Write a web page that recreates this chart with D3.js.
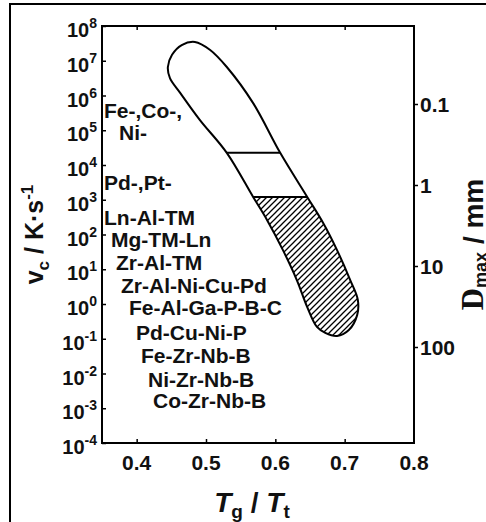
<!DOCTYPE html>
<html>
<head>
<meta charset="utf-8">
<script src="https://cdn.jsdelivr.net/npm/d3@7"></script>
<style>
  body { margin: 0; background: #fff; }
  text { font-family: "Liberation Sans", Arial, sans-serif; font-weight: bold; fill: #111; }
</style>
</head>
<body>
<div id="chart"></div>
<script>
const W = 486, H = 522;
const margin = { top: 26, right: 72, bottom: 79, left: 102 };
const width = W - margin.left - margin.right;
const height = H - margin.top - margin.bottom;

// axis ticks
const tgTicks = [0.4, 0.5, 0.6, 0.7, 0.8];
const rateExponents = [8, 7, 6, 5, 4, 3, 2, 1, 0, -1, -2, -3, -4];
const dmaxTicks = [0.1, 1, 10, 100];
const dmaxLabels = ["0.1", "1", "10", "100"];

// alloy families, listed top to bottom
const alloyLabels = ["Fe-,Co-,", "Ni-", "Pd-,Pt-", "Ln-Al-TM", "Mg-TM-Ln", "Zr-Al-TM",
  "Zr-Al-Ni-Cu-Pd", "Fe-Al-Ga-P-B-C", "Pd-Cu-Ni-P", "Fe-Zr-Nb-B", "Ni-Zr-Nb-B", "Co-Zr-Nb-B"];

// outline of the glass-forming band: Tg/Tl and log10(Rc), going round clockwise
const bandTg = [0.484, 0.506, 0.530, 0.568, 0.607, 0.646, 0.669, 0.689, 0.708, 0.719, 0.718, 0.706,
  0.689, 0.672, 0.660, 0.646, 0.631, 0.611, 0.588, 0.568, 0.530, 0.491, 0.463, 0.448, 0.445, 0.451, 0.465];
const bandLogRc = [7.54, 7.31, 6.82, 5.78, 4.35, 3.08, 2.33, 1.55, 0.69, 0.12, -0.32, -0.75,
  -0.92, -0.83, -0.66, -0.09, 0.69, 1.55, 2.42, 3.08, 4.35, 5.30, 6.07, 6.50, 6.82, 7.17, 7.45];

// log10(Rc) where the band is divided (ribbons / rods / bulk)
const dividers = [4.35, 3.08];

// layout of the alloy list: [left offset px, baseline px] inside the plot
const labelLayout = [[2, 92], [17, 114], [2, 164], [2, 199], [9, 221], [14, 244],
  [19, 267], [27, 289], [34, 314], [39, 337], [46, 361], [51, 382]];

const x = d3.scaleLinear().domain([0.35, 0.8]).range([0, width]);
const y = d3.scaleLog().domain([1e-4, 1e8]).range([height, 0]);
// right axis: Dmax in mm
const yD = d3.scaleLog().domain([0.1, 100]).range([78, 321]);

const svg = d3.select("#chart").append("svg")
  .attr("width", W).attr("height", H);

// outer frame
svg.append("path")
  .attr("d", `M10,${H + 2}V4H${W + 2}`)
  .attr("fill", "none").attr("stroke", "#000").attr("stroke-width", 2);

const defs = svg.append("defs");
const pat = defs.append("pattern")
  .attr("id", "hatch")
  .attr("patternUnits", "userSpaceOnUse")
  .attr("width", 6).attr("height", 6);
pat.append("path")
  .attr("d", "M0,6L6,0M-1,1L1,-1M5,7L7,5")
  .attr("stroke", "#000").attr("stroke-width", 1.3);

const g = svg.append("g").attr("transform", `translate(${margin.left},${margin.top})`);

const bandPts = bandTg.map((t, i) => [x(t), y(Math.pow(10, bandLogRc[i]))]);
const bandPath = d3.line().curve(d3.curveCatmullRomClosed.alpha(0.5))(bandPts);

defs.append("clipPath").attr("id", "bandClip")
  .append("path").attr("d", bandPath);

// hatched bulk region
g.append("rect")
  .attr("x", 0).attr("width", width)
  .attr("y", y(Math.pow(10, dividers[1])))
  .attr("height", height - y(Math.pow(10, dividers[1])))
  .attr("fill", "url(#hatch)")
  .attr("clip-path", "url(#bandClip)");

g.selectAll(".divider")
  .data(dividers)
  .enter().append("line")
  .attr("class", "divider")
  .attr("x1", 0).attr("x2", width)
  .attr("y1", d => y(Math.pow(10, d))).attr("y2", d => y(Math.pow(10, d)))
  .attr("stroke", "#000").attr("stroke-width", 2)
  .attr("clip-path", "url(#bandClip)");

g.append("path")
  .attr("d", bandPath)
  .attr("fill", "none").attr("stroke", "#000").attr("stroke-width", 2);

// axes (ticks only, labels drawn by hand)
const rateVals = rateExponents.map(e => Math.pow(10, e));
g.append("g")
  .call(d3.axisLeft(y).tickValues(rateVals).tickSize(-4).tickFormat(""));
g.append("g").attr("transform", `translate(0,${height})`)
  .call(d3.axisBottom(x).tickValues(tgTicks.slice(0, 4)).tickSize(-4).tickFormat(""));
g.append("g")
  .call(d3.axisTop(x).tickValues(tgTicks.slice(0, 4)).tickSize(-4).tickFormat(""));
g.append("g").attr("transform", `translate(${width},0)`)
  .call(d3.axisRight(yD).tickValues(dmaxTicks).tickSize(4).tickFormat(""));
g.selectAll(".domain").remove();
g.selectAll(".tick line").attr("stroke", "#000").attr("stroke-width", 1.5);

g.append("rect")
  .attr("width", width).attr("height", height)
  .attr("fill", "none").attr("stroke", "#000").attr("stroke-width", 2);

// left tick labels 10^n
const rl = g.selectAll(".rate-label")
  .data(rateExponents)
  .enter().append("text")
  .attr("class", "rate-label")
  .attr("text-anchor", "end")
  .attr("x", -5)
  .attr("y", d => y(Math.pow(10, d)) + 11)
  .style("font-size", "20px");
rl.append("tspan").text("10");
rl.append("tspan").attr("dy", -9).style("font-size", "14px").text(d => d);

// bottom tick labels
g.selectAll(".tg-label")
  .data(tgTicks)
  .enter().append("text")
  .attr("class", "tg-label")
  .attr("text-anchor", "middle")
  .attr("x", d => x(d))
  .attr("y", height + 27)
  .style("font-size", "21px")
  .text(d3.format(".1f"));

// right tick labels
g.selectAll(".d-label")
  .data(dmaxTicks)
  .enter().append("text")
  .attr("class", "d-label")
  .attr("x", width + 6)
  .attr("y", d => yD(d) + 8)
  .style("font-size", "21px")
  .text((d, i) => dmaxLabels[i]);

// alloy names
g.selectAll(".alloy")
  .data(alloyLabels)
  .enter().append("text")
  .attr("class", "alloy")
  .attr("x", (d, i) => labelLayout[i][0])
  .attr("y", (d, i) => labelLayout[i][1])
  .style("font-size", "21px")
  .text(d => d);

// axis titles
const yt = svg.append("text")
  .attr("transform", `translate(43,${margin.top + height / 2}) rotate(-90)`)
  .attr("text-anchor", "middle")
  .style("font-size", "25px");
yt.append("tspan").text("v");
yt.append("tspan").attr("dy", 6).style("font-size", "17px").text("c");
yt.append("tspan").attr("dy", -6).text(" / K·s");
yt.append("tspan").attr("dy", -10).style("font-size", "17px").text("-1");

const rt = svg.append("text")
  .attr("transform", `translate(483,${margin.top + height / 2 + 10}) rotate(-90)`)
  .attr("text-anchor", "middle")
  .style("font-size", "28px");
rt.append("tspan").style("font-family", "'Liberation Serif', 'Times New Roman', serif").style("font-size", "31px").text("D");
rt.append("tspan").attr("dy", 4).style("font-size", "18px").text("max");
rt.append("tspan").attr("dy", -4).text(" / mm");

const xt = svg.append("text")
  .attr("x", margin.left + width / 2 - 6)
  .attr("y", 512)
  .attr("text-anchor", "middle")
  .style("font-size", "28px");
xt.append("tspan").style("font-style", "italic").text("T");
xt.append("tspan").attr("dy", 6).style("font-size", "19px").text("g");
xt.append("tspan").attr("dy", -6).text(" / ");
xt.append("tspan").style("font-style", "italic").text("T");
xt.append("tspan").attr("dy", 6).style("font-size", "19px").text("t");
</script>
</body>
</html>
